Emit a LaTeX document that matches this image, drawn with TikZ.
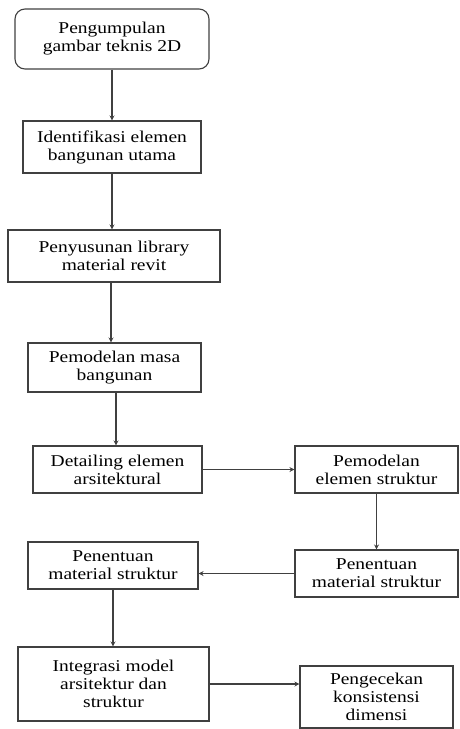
\documentclass[tikz,border=0pt]{standalone}
\usepackage{fontspec}
\setmainfont{Liberation Serif}[FakeStretch=1.18]
\usepackage{tikz}
\usetikzlibrary{arrows.meta}
\usetikzlibrary{positioning}

\begin{document}
\begin{tikzpicture}[x=1pt, y=-1pt,
        stepbox/.style={draw=black!75, line width=1.1pt, align=center, inner sep=0pt,
            font=\fontsize{16.5}{18}\selectfont},
        flow/.style={draw=black!75, line width=1.1pt, -{Stealth[length=5pt,width=5pt]}}]
        \useasboundingbox (0,0) rectangle (459,729);
        % left column
        \node[stepbox, rounded corners=10pt, minimum width=194pt, minimum height=60pt] (kumpul) at (112,39) {Pengumpulan\\gambar teknis 2D};
        \node[stepbox, minimum width=178pt, minimum height=52pt] (identifikasi) at (112,147) {Identifikasi elemen\\bangunan utama};
        \node[stepbox, minimum width=212pt, minimum height=52pt] (library) at (114,256) {Penyusunan library\\material revit};
        \node[stepbox, minimum width=173pt, minimum height=49pt] (masa) at (114.5,367.5) {Pemodelan masa\\bangunan};
        \node[stepbox, minimum width=169pt, minimum height=47pt] (detail) at (117.5,469.5) {Detailing elemen\\arsitektural};
        \node[stepbox, minimum width=170pt, minimum height=47pt] (materialkiri) at (113,565.5) {Penentuan\\material struktur};
        \node[stepbox, minimum width=191pt, minimum height=74pt] (integrasi) at (113.5,684) {Integrasi model\\arsitektur dan\\struktur};
        % right column
        \node[stepbox, minimum width=163pt, minimum height=47pt] (struktur) at (376.5,469.5) {Pemodelan\\elemen struktur};
        \node[stepbox, minimum width=163pt, minimum height=47pt] (materialkanan) at (376.5,573.5) {Penentuan\\material struktur};
        \node[stepbox, minimum width=153pt, minimum height=62pt] (cek) at (376.5,697) {Pengecekan\\konsistensi\\dimensi};

        \draw[flow] (kumpul.south) -- (kumpul.south |- identifikasi.north);
        \draw[flow] (identifikasi.south) -- (identifikasi.south |- library.north);
        \draw[flow] (library.south) ++(-3,0) coordinate (l1) (l1) -- (l1 |- masa.north);
        \draw[flow] (masa.south) ++(1.5,0) coordinate (m1) (m1) -- (m1 |- detail.north);
        \draw[flow] (detail) -- (struktur);
        \draw[flow] (struktur) -- (materialkanan);
        \draw[flow] (materialkanan.west) -- (materialkanan.west -| materialkiri.east);
        \draw[flow] (materialkiri.south) -- (materialkiri.south |- integrasi.north);
        \draw[flow] (integrasi.east) -- (integrasi.east -| cek.west);
\end{tikzpicture}
\end{document}
